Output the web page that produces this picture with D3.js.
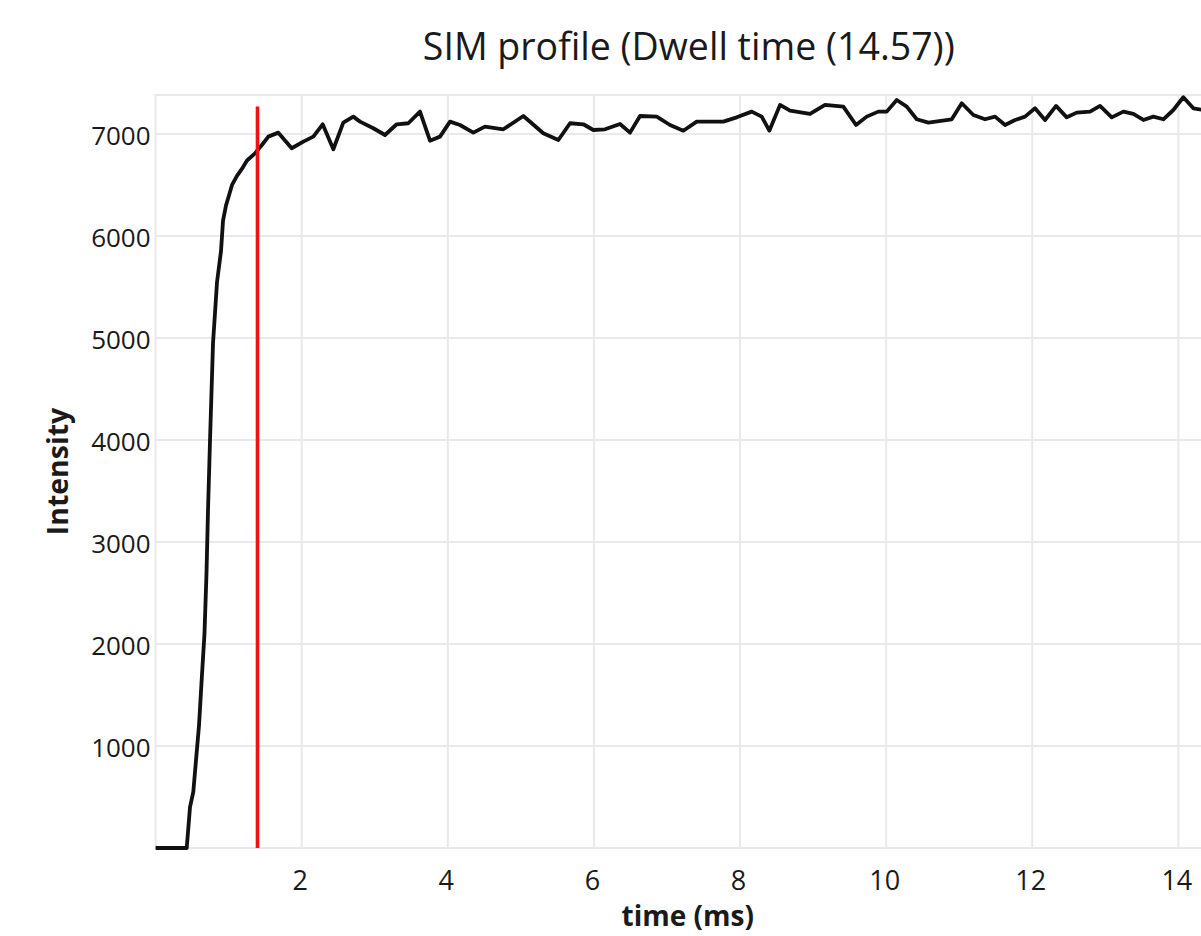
<!DOCTYPE html>
<html>
<head>
<meta charset="utf-8">
<script src="https://cdn.jsdelivr.net/npm/d3@7"></script>
<style>
  html, body { margin: 0; padding: 0; background: #fff; overflow: hidden; }
  svg { display: block; }
  text { font-family: "Open Sans", "Noto Sans", sans-serif; fill: #1a1a1a; }
</style>
</head>
<body>
<svg id="chart" width="1201" height="936"></svg>
<script>
// ---- data ----
const title = "SIM profile (Dwell time (14.57))";
const xLabel = "time (ms)";
const yLabel = "Intensity";
const dwellTime = 14.57;
const xTicks = [2, 4, 6, 8, 10, 12, 14];
const yTicks = [1000, 2000, 3000, 4000, 5000, 6000, 7000];
const yMax = 7382;
const markerTime = 1.395;
const markerTop = 7270;

const times = [
  0.000, 0.142, 0.284, 0.426, 0.471, 0.516, 0.553, 0.594, 0.635, 0.669, 0.697, 0.717, 0.745,
  0.786, 0.841, 0.895, 0.923, 0.964, 1.005, 1.046, 1.114, 1.183, 1.251, 1.361, 1.474,
  1.543, 1.680, 1.863, 2.022, 2.159, 2.287, 2.433, 2.569, 2.706, 2.798, 2.980, 3.140,
  3.300, 3.459, 3.619, 3.756, 3.893, 4.030, 4.167, 4.349, 4.509, 4.760, 5.034, 5.307,
  5.513, 5.673, 5.855, 5.992, 6.152, 6.357, 6.494, 6.631, 6.860, 7.042, 7.224, 7.407,
  7.771, 7.955, 8.160, 8.297, 8.401, 8.548, 8.684, 8.958, 9.164, 9.414, 9.588, 9.734,
  9.893, 10.008, 10.145, 10.282, 10.419, 10.578, 10.898, 11.035, 11.194, 11.354, 11.491,
  11.628, 11.765, 11.901, 12.038, 12.175, 12.326, 12.472, 12.609, 12.791, 12.928, 13.088,
  13.247, 13.384, 13.521, 13.658, 13.795, 13.931, 14.068, 14.205, 14.340, 14.470, 14.570
];
const intensity = [
  0, 0, 0, 0, 400, 550, 860, 1200, 1700, 2100, 2700, 3300, 4000,
  4950, 5550, 5850, 6150, 6300, 6400, 6500, 6590, 6660, 6740, 6810, 6909,
  6974, 7013, 6860, 6925, 6974, 7095, 6850, 7111, 7170, 7121, 7056, 6990,
  7095, 7105, 7219, 6934, 6974, 7121, 7088, 7013, 7072, 7046, 7176, 7007,
  6941, 7105, 7095, 7039, 7046, 7098, 7013, 7176, 7170, 7088, 7032, 7121,
  7121, 7163, 7219, 7170, 7032, 7285, 7229, 7196, 7285, 7268, 7088, 7170,
  7219, 7219, 7333, 7268, 7144, 7111, 7144, 7301, 7186, 7144, 7170,
  7088, 7137, 7170, 7252, 7137, 7275, 7163, 7209, 7219, 7275, 7163,
  7219, 7196, 7137, 7170, 7144, 7235, 7360, 7252, 7235, 7210, 7240
];

// ---- layout ----
const svg = d3.select("#chart");
const mLeft = 155.6, mRight = 1220, mTop = 95, mBottom = 848;

const x = d3.scaleLinear().domain([0, dwellTime]).range([mLeft, mRight]);
const y = d3.scaleLinear().domain([0, yMax]).range([mBottom, mTop]);

const grid = svg.append("g");
grid.append("rect")
  .attr("x", mLeft).attr("y", mTop)
  .attr("width", mRight - mLeft).attr("height", mBottom - mTop)
  .attr("fill", "none").attr("stroke", "#e9e9e9").attr("stroke-width", 2);

grid.selectAll("line.h").data(yTicks).enter().append("line")
  .attr("class", "h")
  .attr("x1", mLeft).attr("x2", mRight)
  .attr("y1", d => y(d)).attr("y2", d => y(d))
  .attr("stroke", "#e9e9e9").attr("stroke-width", 2);

grid.selectAll("line.v").data(xTicks).enter().append("line")
  .attr("class", "v")
  .attr("y1", mTop).attr("y2", mBottom)
  .attr("x1", d => x(d)).attr("x2", d => x(d))
  .attr("stroke", "#e9e9e9").attr("stroke-width", 2);

// axes (labels only)
const yAxis = d3.axisLeft(y).tickValues(yTicks).tickSize(0).tickPadding(5).tickFormat(d3.format("d"));
const yg = svg.append("g").attr("transform", `translate(${mLeft},2)`).call(yAxis);
yg.select(".domain").remove();
yg.selectAll("text").style("font-size", "26px").style("font-family", "'Open Sans', sans-serif").attr("fill", "#1a1a1a");

const xAxis = d3.axisBottom(x).tickValues(xTicks).tickSize(0).tickPadding(23).tickFormat(d3.format("d"));
const xg = svg.append("g").attr("transform", `translate(-2,${mBottom})`).call(xAxis);
xg.select(".domain").remove();
xg.selectAll("text").style("font-size", "27px").style("font-family", "'Open Sans', sans-serif").attr("fill", "#1a1a1a");

// data line
const data = times.map((t, i) => ({ t, v: intensity[i] }));
const line = d3.line().x(d => x(d.t)).y(d => y(d.v));
svg.append("path").datum(data)
  .attr("d", line)
  .attr("fill", "none").attr("stroke", "#111").attr("stroke-width", 3.8)
  .attr("stroke-linejoin", "round");

// marker line
svg.append("line")
  .attr("x1", x(markerTime)).attr("x2", x(markerTime))
  .attr("y1", y(0)).attr("y2", y(markerTop))
  .attr("stroke", "#f21010").attr("stroke-width", 3.6);

// title
svg.append("text")
  .attr("x", (mLeft + mRight) / 2 + 1).attr("y", 60)
  .attr("text-anchor", "middle")
  .style("font-size", "37.5px")
  .text(title);

// axis titles
svg.append("text")
  .attr("x", (mLeft + mRight) / 2).attr("y", 926)
  .attr("text-anchor", "middle")
  .style("font-size", "28px").style("font-weight", "bold")
  .text(xLabel);

svg.append("text")
  .attr("transform", `translate(68,${(mTop + mBottom) / 2}) rotate(-90)`)
  .attr("text-anchor", "middle")
  .style("font-size", "28.5px").style("font-weight", "bold")
  .text(yLabel);
</script>
</body>
</html>
